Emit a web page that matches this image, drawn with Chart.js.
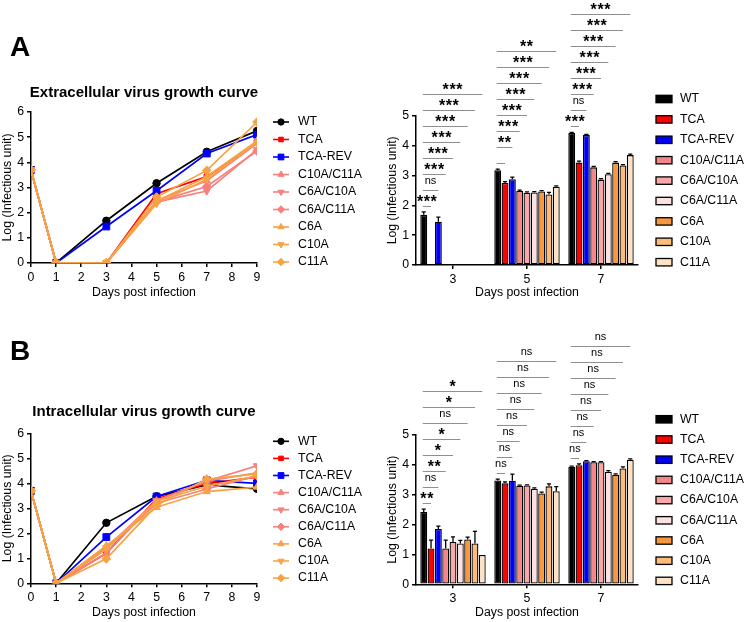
<!DOCTYPE html>
<html>
<head>
<meta charset="utf-8">
<script src="https://cdn.jsdelivr.net/npm/chart.js@4.4.0/dist/chart.umd.min.js"></script>
<style>
  body { margin: 0; background: #fff; width: 748px; height: 622px; position: relative; overflow: hidden;
         font-family: 'Liberation Sans', Arial, sans-serif; }
  canvas { position: absolute; left: 0; top: 0; }
  .lbl { position: absolute; font-weight: bold; color: #000; white-space: nowrap; }
  .panel { font-size: 28px; line-height: 28px; left: 10px; }
  .ttl { font-size: 15px; line-height: 15px; left: 144px; transform: translateX(-50%); }
</style>
</head>
<body>
<canvas id="lineA" width="748" height="622"></canvas>
<canvas id="barA" width="748" height="622"></canvas>
<canvas id="lineB" width="748" height="622"></canvas>
<canvas id="barB" width="748" height="622"></canvas>

<div class="lbl panel" style="top:33px;">A</div>
<div class="lbl ttl" style="top:84px;">Extracellular virus growth curve</div>
<div class="lbl panel" style="top:337px;">B</div>
<div class="lbl ttl" style="top:403px;">Intracellular virus growth curve</div>

<script>
const FONT = "'Liberation Sans', Arial, sans-serif";

// ---- data ----
const days = [0, 1, 3, 5, 7, 9];
const barDays = ['3', '5', '7'];
const strains = ['WT', 'TCA', 'TCA-REV', 'C10A/C11A', 'C6A/C10A', 'C6A/C11A', 'C6A', 'C10A', 'C11A'];

// Extracellular, log (infectious unit) on each day
const extWT      = [3.7, 0, 1.68, 3.17, 4.42, 5.25];
const extTCA     = [3.7, 0, 0, 2.75, 3.43, 4.8];
const extTCArev  = [3.7, 0, 1.45, 2.87, 4.35, 5.1];
const extC10C11  = [3.7, 0, 0, 2.48, 3.27, 4.75];
const extC6C10   = [3.7, 0, 0, 2.42, 2.86, 4.5];
const extC6C11   = [3.7, 0, 0, 2.43, 3.04, 4.45];
const extC6      = [3.7, 0, 0, 2.46, 3.43, 4.85];
const extC10     = [3.7, 0, 0, 2.36, 3.33, 4.8];
const extC11     = [3.7, 0, 0, 2.62, 3.68, 5.6];

// Intracellular
const intWT      = [3.7, 0, 2.42, 3.48, 3.94, 3.78];
const intTCA     = [3.7, 0, 1.2, 3.38, 3.99, 4.25];
const intTCArev  = [3.7, 0, 1.85, 3.47, 4.12, 4.0];
const intC10C11  = [3.7, 0, 1.2, 3.3, 4.09, 4.42];
const intC6C10   = [3.7, 0, 1.42, 3.31, 4.09, 4.7];
const intC6C11   = [3.7, 0, 1.37, 3.2, 3.77, 4.3];
const intC6      = [3.7, 0, 1.5, 3.04, 3.67, 3.85];
const intC10     = [3.7, 0, 1.37, 3.28, 3.88, 4.3];
const intC11     = [3.7, 0, 0.98, 3.12, 4.17, 4.38];

// error bars (SD) for days 3, 5, 7, one value per strain
const extErrD3 = [0.1, 0, 0.15, 0, 0, 0, 0, 0, 0];
const extErrD5 = [0.04, 0.04, 0.07, 0.03, 0.03, 0.03, 0.03, 0.07, 0.03];
const extErrD7 = [0.02, 0.05, 0.02, 0.03, 0.03, 0.03, 0.03, 0.03, 0.03];
const intErrD3 = [0.1, 0.28, 0.1, 0.28, 0.17, 0.1, 0.08, 0.4, 0];
const intErrD5 = [0.04, 0.05, 0.22, 0.02, 0.02, 0.03, 0.05, 0.08, 0.15];
const intErrD7 = [0.02, 0.04, 0.02, 0.02, 0.02, 0.04, 0.03, 0.05, 0.03];

// significance vs WT (TCA ... C11A)
const sigExtD3 = ['***', 'ns', '***', '***', '***', '***', '***', '***'];
const sigExtD5 = ['', '**', '***', '***', '***', '***', '***', '**'];
const sigExtD7 = ['***', 'ns', '***', '***', '***', '***', '***', '***'];
const sigIntD3 = ['**', 'ns', '**', '*', '*', 'ns', '*', '*'];
const sigIntD5 = ['ns', 'ns', 'ns', 'ns', 'ns', 'ns', 'ns', 'ns'];
const sigIntD7 = ['ns', 'ns', 'ns', 'ns', 'ns', 'ns', 'ns', 'ns'];

// ---- styles ----
const lineColors = ['#000000', '#ff0000', '#0000ff', '#f6817d', '#f6817d', '#f6817d', '#f9a245', '#f9a245', '#f9a245'];
const barColors  = ['#000000', '#ff0000', '#0000ff', '#f3868a', '#f8a8a8', '#fde1e1', '#f7983f', '#fbbc7b', '#fde2c5'];
const markerStyle = ['circle', 'rect', 'rect', 'triangle', 'triangle', 'rectRot', 'triangle', 'triangle', 'rectRot'];
const markerRot   = [0, 0, 0, 0, 180, 0, 0, 180, 0];
const markerSize  = [3.7, 3.8, 4.8, 4.2, 4.2, 4.4, 4.2, 4.2, 4.4];

const tickFont = { family: FONT, size: 12.3 };
const titleFont = { family: FONT, size: 12.3, lineHeight: 1.2 };

function drawMarker(ctx, style, rot, r, x, y) {
  if (Chart.helpers && Chart.helpers.drawPoint) {
    Chart.helpers.drawPoint(ctx, { pointStyle: style, rotation: rot, radius: r, borderWidth: 1 }, x, y);
  } else {
    ctx.beginPath(); ctx.arc(x, y, r, 0, Math.PI * 2); ctx.fill(); ctx.stroke();
  }
}

// legend for the growth curves: short line with marker
const lineLegend = {
  id: 'lineLegend',
  afterDraw(chart, args, opts) {
    const ctx = chart.ctx, a = chart.chartArea;
    ctx.save();
    chart.data.datasets.forEach((ds, i) => {
      const y = a.top + opts.first + i * opts.step;
      const x0 = a.right + 16;
      ctx.strokeStyle = ds.borderColor;
      ctx.fillStyle = ds.backgroundColor;
      ctx.lineWidth = 1.6;
      ctx.beginPath(); ctx.moveTo(x0, y); ctx.lineTo(x0 + 16, y); ctx.stroke();
      ctx.lineWidth = 1;
      drawMarker(ctx, ds.pointStyle, ds.pointRotation, ds.pointRadius * 0.85, x0 + 8, y);
      ctx.fillStyle = '#000';
      ctx.font = '12.3px ' + FONT;
      ctx.textBaseline = 'middle';
      ctx.textAlign = 'left';
      ctx.fillText(ds.label, x0 + 25, y);
    });
    ctx.restore();
  }
};

// error bars, significance brackets and legend for the bar charts
const barExtras = {
  id: 'barExtras',
  afterDatasetsDraw(chart) {
    const ctx = chart.ctx, ys = chart.scales.y;
    ctx.save();
    ctx.strokeStyle = '#000';
    ctx.lineWidth = 1.3;
    chart.data.datasets.forEach((ds, i) => {
      chart.getDatasetMeta(i).data.forEach((bar, j) => {
        const e = ds.errors[j];
        if (!e || !ds.data[j]) return;
        const top = ys.getPixelForValue(ds.data[j] + e);
        const w = bar.width * 0.3;
        ctx.beginPath();
        ctx.moveTo(bar.x, bar.y); ctx.lineTo(bar.x, top);
        ctx.moveTo(bar.x - w, top); ctx.lineTo(bar.x + w, top);
        ctx.stroke();
      });
    });
    ctx.restore();
  },
  afterDraw(chart, args, opts) {
    const ctx = chart.ctx, ys = chart.scales.y, a = chart.chartArea;
    const dsets = chart.data.datasets;
    ctx.save();
    // brackets
    opts.sig.forEach((labels, g) => {
      const m0 = chart.getDatasetMeta(0).data[g];
      const topOf = i => ys.getPixelForValue(dsets[i].data[g] + (dsets[i].errors[g] || 0));
      const base = Math.min(topOf(0), topOf(1)) - 6;
      labels.forEach((txt, k) => {
        const bk = chart.getDatasetMeta(k + 1).data[g];
        const yl = Math.round(base - k * 16) + 0.5;
        ctx.strokeStyle = '#8f8f8f';
        ctx.lineWidth = 1;
        ctx.beginPath(); ctx.moveTo(m0.x - 1, yl); ctx.lineTo(bk.x, yl); ctx.stroke();
        if (!txt) return;
        const cx = (m0.x - 1 + bk.x) / 2;
        ctx.fillStyle = '#000';
        ctx.textAlign = 'center';
        ctx.textBaseline = 'alphabetic';
        if (txt === 'ns') {
          ctx.letterSpacing = '0px';
          ctx.font = '11px ' + FONT;
          ctx.fillText(txt, cx, yl - 7);
        } else {
          ctx.letterSpacing = '0.6px';
          ctx.font = 'bold 16px ' + FONT;
          ctx.fillText(txt, cx + 0.3, yl + 0.5);
        }
      });
    });
    ctx.letterSpacing = '0px';
    // legend
    dsets.forEach((ds, i) => {
      const y = a.top + opts.first + i * opts.step;
      const x0 = a.right + 18;
      ctx.fillStyle = ds.backgroundColor;
      ctx.fillRect(x0, y - 3.7, 16, 7.4);
      ctx.strokeStyle = '#000';
      ctx.lineWidth = 1.3;
      ctx.strokeRect(x0, y - 3.7, 16, 7.4);
      ctx.fillStyle = '#000';
      ctx.font = '12.3px ' + FONT;
      ctx.textAlign = 'left';
      ctx.textBaseline = 'middle';
      ctx.fillText(ds.label, x0 + 24, y);
    });
    ctx.restore();
  }
};

function axisStyle(extra) {
  return Object.assign({
    grid: { drawOnChartArea: false, color: '#000', lineWidth: 1.5, tickLength: 4 },
    border: { color: '#000', width: 1.5 },
    ticks: { font: tickFont, color: '#000', padding: 3 }
  }, extra);
}

function growthChart(id, series, pad, xh, legendOpts) {
  const datasets = series.map((vals, i) => ({
    label: strains[i],
    data: vals.map((v, k) => ({ x: days[k], y: v })),
    borderColor: lineColors[i],
    backgroundColor: lineColors[i],
    borderWidth: 1.7,
    pointStyle: markerStyle[i],
    pointRotation: markerRot[i],
    pointRadius: markerSize[i],
    pointBorderWidth: 1,
    order: series.length - i
  }));
  return new Chart(document.getElementById(id), {
    type: 'line',
    data: { datasets },
    options: {
      responsive: false,
      animation: false,
      layout: { padding: pad },
      plugins: { legend: { display: false }, tooltip: { enabled: false }, lineLegend: legendOpts },
      scales: {
        x: axisStyle({
          type: 'linear', min: 0, max: 9,
          ticks: { font: tickFont, color: '#000', padding: 3, stepSize: 1, maxRotation: 0 },
          title: { display: true, text: 'Days post infection', font: titleFont, color: '#000', padding: 0 },
          afterFit: s => { s.height = xh; }
        }),
        y: axisStyle({
          min: 0, max: 6,
          ticks: { font: tickFont, color: '#000', padding: 3, stepSize: 1 },
          title: { display: true, text: 'Log (Infectious unit)', font: titleFont, color: '#000', padding: 0 },
          afterFit: s => { s.width = 30.4; }
        })
      }
    },
    plugins: [lineLegend]
  });
}

function barChart(id, series, errs, sig, pad, xh, legendOpts) {
  const datasets = series.map((vals, i) => ({
    label: strains[i],
    data: vals.slice(2, 5),
    errors: errs.map(e => e[i]),
    backgroundColor: barColors[i],
    borderColor: '#000',
    borderWidth: 1.3,
    borderSkipped: false,
    barPercentage: 0.94,
    categoryPercentage: 0.89
  }));
  return new Chart(document.getElementById(id), {
    type: 'bar',
    data: { labels: barDays, datasets },
    options: {
      responsive: false,
      animation: false,
      layout: { padding: pad },
      plugins: {
        legend: { display: false }, tooltip: { enabled: false },
        barExtras: Object.assign({ sig }, legendOpts)
      },
      scales: {
        x: axisStyle({
          grid: { drawOnChartArea: false, color: '#000', lineWidth: 1.5, tickLength: 4, offset: false },
          title: { display: true, text: 'Days post infection', font: titleFont, color: '#000', padding: 0 },
          afterFit: s => { s.height = xh; }
        }),
        y: axisStyle({
          min: 0, max: 5,
          ticks: { font: tickFont, color: '#000', padding: 3, stepSize: 1 },
          title: { display: true, text: 'Log (Infectious unit)', font: titleFont, color: '#000', padding: 0 },
          afterFit: s => { s.width = 30.4; }
        })
      }
    },
    plugins: [barExtras]
  });
}

const extSeries = [extWT, extTCA, extTCArev, extC10C11, extC6C10, extC6C11, extC6, extC10, extC11];
const intSeries = [intWT, intTCA, intTCArev, intC10C11, intC6C10, intC6C11, intC6, intC10, intC11];

growthChart('lineA', extSeries, { left: 0.6, top: 112, right: 491, bottom: 321.6 }, 37.4, { first: 10, step: 17.5 });
barChart('barA', extSeries, [extErrD3, extErrD5, extErrD7], [sigExtD3, sigExtD5, sigExtD7],
  { left: 385.6, top: 115.7, right: 110, bottom: 321.6 }, 35.4, { first: -16.7, step: 20.4 });
growthChart('lineB', intSeries, { left: 0.6, top: 433.3, right: 491, bottom: 1.9 }, 36.8, { first: 8, step: 17.1 });
barChart('barB', intSeries, [intErrD3, intErrD5, intErrD7], [sigIntD3, sigIntD5, sigIntD7],
  { left: 385.6, top: 435, right: 110, bottom: 1.9 }, 35.8, { first: -15.7, step: 20.2 });
</script>
</body>
</html>
